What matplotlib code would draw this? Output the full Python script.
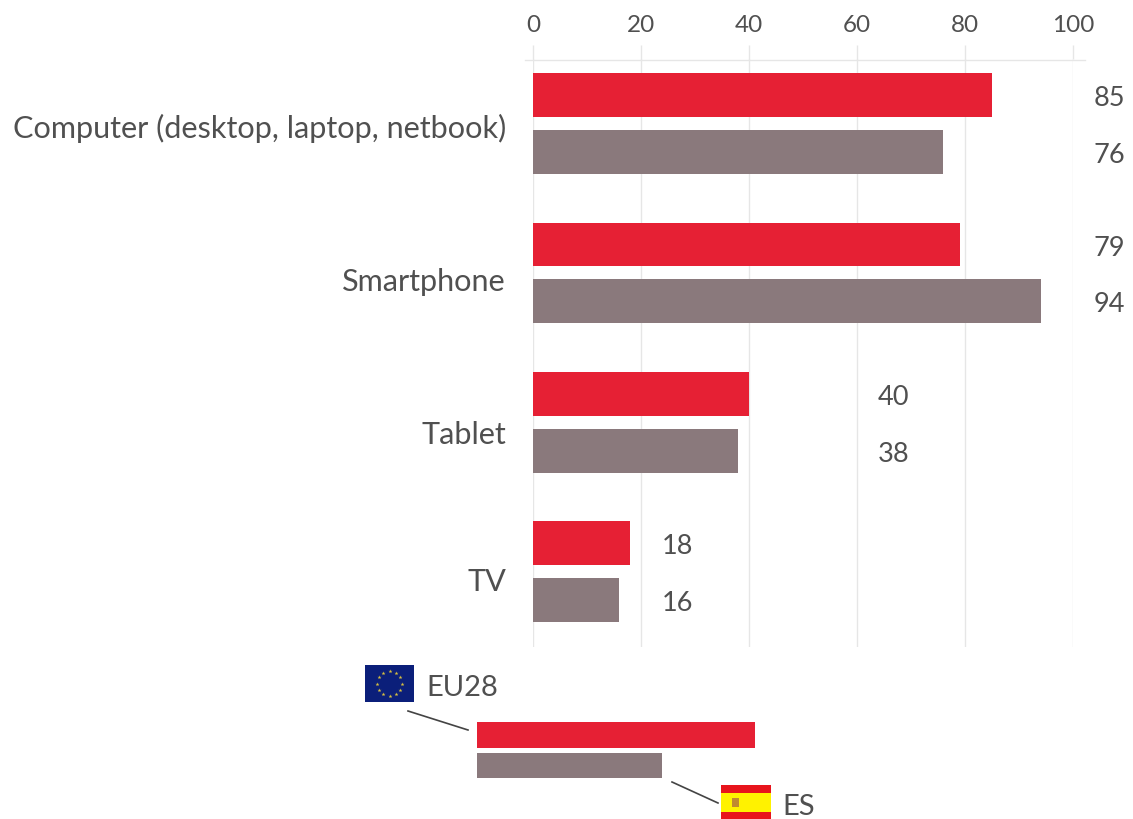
#!/usr/bin/env python3
import numpy as np
import matplotlib.pyplot as plt
from matplotlib.patches import Rectangle

categories = ['Computer (desktop, laptop, netbook)', 'Smartphone', 'Tablet', 'TV']
eu28 = [85, 79, 40, 18]
es = [76, 94, 38, 16]
ticks = [0, 20, 40, 60, 80, 100]

RED = '#E62034'
GREY = '#8A797C'
GRID = '#E6E6E6'
TEXT = '#505050'
W, H = 1133, 820

plt.rcParams['font.family'] = ['Lato', 'DejaVu Sans']

fig = plt.figure(figsize=(W / 100, H / 100), dpi=100, facecolor='white')
# axes placed in pixels of the reference: x 533..1073, y 60..648
ax = fig.add_axes([533 / W, 1 - 648 / H, 540 / W, 588 / H])

y = np.arange(len(categories))
offset = 0.19
height = 0.294
ax.barh(y - offset, eu28, height=height, color=RED, zorder=3)
ax.barh(y + offset, es, height=height, color=GREY, zorder=3)

# value labels sit in a column picked per group
label_x = [104, 104, 64, 24]
for i in y:
    ax.text(label_x[i] - 0.2, i - offset + 0.018, str(eu28[i]), va='center', ha='left',
            fontsize=19.5, color=TEXT)
    ax.text(label_x[i] - 0.2, i + offset + 0.018, str(es[i]), va='center', ha='left',
            fontsize=19.5, color=TEXT)

ax.set_xlim(0, 100)
ax.set_ylim(3.505, -0.432)
# category labels hang a little below the middle of each group
label_nudge = [0.027, 0.053, 0.08, 0.06]
ax.set_yticks(y + np.array(label_nudge), categories)
ax.set_xticks(ticks)
ax.xaxis.tick_top()
ax.tick_params(axis='x', length=10, width=1, color=GRID, labelcolor=TEXT,
               labelsize=17.5, pad=7)
ax.tick_params(axis='y', length=0, labelcolor=TEXT, labelsize=22.1, pad=19.5)
ax.grid(True, axis='x', color=GRID, lw=1, zorder=0)
ax.set_axisbelow(True)
for s in ['left', 'right', 'bottom', 'top']:
    ax.spines[s].set_visible(False)
for lab in ax.get_yticklabels():
    lab.set_verticalalignment('center')

# ── Overlay in pixel coordinates: top rule, legend bars, flags ──────────────
ov = fig.add_axes([0, 0, 1, 1], facecolor='none')
ov.set_xlim(0, W)
ov.set_ylim(H - 1, -1)
ov.axis('off')
ov.plot([525, 1085], [60, 60], color=GRID, lw=1)

ov.add_patch(Rectangle((477, 722), 278, 26, color=RED, lw=0))
ov.add_patch(Rectangle((477, 753), 185, 25, color=GREY, lw=0))
ov.plot([408, 468], [711, 730], color='#444444', lw=1.2)
ov.plot([672, 718], [782, 803], color='#444444', lw=1.2)

# EU flag
ov.add_patch(Rectangle((365, 665), 49, 37, color='#0B1F7A', lw=0))
ang = np.arange(12) * np.pi / 6
ov.scatter(389.5 + 12.5 * np.cos(ang), 683.5 + 12.5 * np.sin(ang), marker='*', s=9,
           color='#D8C040', lw=0)
ov.text(426, 687, 'EU28', va='center', ha='left', fontsize=21, color=TEXT)

# Spanish flag, cut off by the bottom edge
ov.add_patch(Rectangle((721, 785), 50, 35, color='#E8141C', lw=0))
ov.add_patch(Rectangle((721, 793), 50, 19, color='#FFF200', lw=0))
ov.add_patch(Rectangle((732, 798), 7, 9, color='#C08A30', lw=0))
ov.text(782, 806, 'ES', va='center', ha='left', fontsize=21, color=TEXT)

fig.savefig('out.png', dpi=100, facecolor='white')
